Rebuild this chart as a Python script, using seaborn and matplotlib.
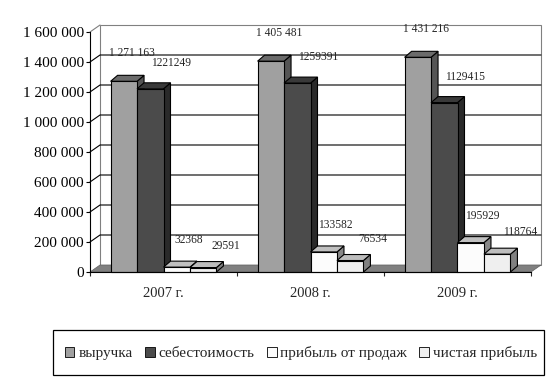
import matplotlib
matplotlib.use("Agg")
import matplotlib.pyplot as plt
import matplotlib.transforms as mtransforms
from matplotlib.patches import Polygon, Patch, Rectangle
from matplotlib.lines import Line2D
import pandas as pd
import seaborn as sns

# data
years = ["2007 г.", "2008 г.", "2009 г."]
series = ["выручка", "себестоимость", "прибыль от продаж", "чистая прибыль"]
revenue = [1271163, 1405481, 1431216]
cost = [1221249, 1259391, 1129415]
sales_profit = [32368, 133582, 195929]
net_profit = [29591, 76534, 118764]

front_colors = ["#a0a0a0", "#4b4b4b", "#fcfcfc", "#efefef"]
top_colors = ["#6b6b6b", "#393939", "#c0c0c0", "#bdbdbd"]
side_colors = ["#555555", "#2a2a2a", "#888888", "#808080"]

df = pd.DataFrame({
    "year": years * 4,
    "series": [s for s in series for _ in years],
    "value": revenue + cost + sales_profit + net_profit,
})

sns.set_style("white")
plt.rcParams["font.family"] = ["Liberation Serif", "DejaVu Serif"]

fig = plt.figure(figsize=(5.6, 3.85), dpi=100)
ax = fig.add_axes([90 / 560, 113 / 385, 441 / 560, 240 / 385])
sns.barplot(data=df, x="year", y="value", hue="series", hue_order=series,
            palette=front_colors, saturation=1, width=0.72,
            edgecolor="black", linewidth=0.8, legend=False, ax=ax)
ax.set_xlim(-0.5, 2.5)
ax.set_ylim(0, 1600000)
ax.set_xlabel("")
ax.set_ylabel("")

# pseudo-3D helpers (display pixels)
ident = mtransforms.IdentityTransform()
WX, WY = 10, 7   # wall depth
BX, BY = 7, 6    # bar depth


def disp(x, y):
    return ax.transData.transform((x, y))


def back(x, y):
    p = disp(x, y)
    return (p[0] + WX, p[1] + WY)


ymax = 1600000
ticks = list(range(0, ymax + 1, 200000))

# back wall
wall = Polygon([back(-0.5, 0), back(2.5, 0), back(2.5, ymax), back(-0.5, ymax)],
               closed=True, facecolor="white", edgecolor="#808080", lw=0.8,
               transform=ident, clip_on=False, zorder=0.5)
ax.add_patch(wall)
for v in ticks[1:-1]:
    a, b = back(-0.5, v), back(2.5, v)
    f = disp(-0.5, v)
    ax.add_line(Line2D([f[0], a[0], b[0]], [f[1], a[1], b[1]], color="black",
                       lw=0.8, transform=ident, clip_on=False, zorder=0.6))
f = disp(-0.5, ymax)
a = back(-0.5, ymax)
ax.add_line(Line2D([f[0], a[0]], [f[1], a[1]], color="#808080", lw=0.8,
                   transform=ident, clip_on=False, zorder=0.6))
# floor
floor = Polygon([disp(-0.5, 0), disp(2.5, 0), back(2.5, 0), back(-0.5, 0)],
                closed=True, facecolor="#808080", edgecolor="#606060", lw=0.5,
                transform=ident, clip_on=False, zorder=0.7)
ax.add_patch(floor)

# bar faces, drawn left to right so each front hides the previous side
label_offsets = [(8, 28), (21, 26), (12, 27), (23, 22)]
bars = []
for i, cont in enumerate(ax.containers):
    for bar in cont:
        bars.append((bar.get_x(), i, bar))
bars.sort(key=lambda t: t[0])
for rank, (_, i, bar) in enumerate(bars):
    x0, w, h = bar.get_x(), bar.get_width(), bar.get_height()
    xl, yb = disp(x0, 0)
    xr, yt = disp(x0 + w, h)
    z = 2 + rank * 0.01
    top = Polygon([(xl, yt), (xr, yt), (xr + BX, yt + BY), (xl + BX, yt + BY)],
                  closed=True, facecolor=top_colors[i], edgecolor="black",
                  lw=0.8, transform=ident, clip_on=False, zorder=z)
    side = Polygon([(xr, yb), (xr, yt), (xr + BX, yt + BY), (xr + BX, yb + BY)],
                   closed=True, facecolor=side_colors[i], edgecolor="black",
                   lw=0.8, transform=ident, clip_on=False, zorder=z)
    ax.add_patch(side)
    ax.add_patch(top)
    bar.set_zorder(z + 0.005)
    bar.set_clip_on(False)
    txt = f"{int(h):,}".replace(",", " ") if i == 0 else f"{int(h)}"
    dx, dy = label_offsets[i]
    ax.annotate(txt, (x0 + w / 2, h), xytext=(dx, dy), textcoords="offset pixels",
                ha="center", va="center", fontsize=8.3, zorder=5,
                annotation_clip=False)

# axes styling
for s in ["top", "right"]:
    ax.spines[s].set_visible(False)
for s in ["left", "bottom"]:
    ax.spines[s].set_color("black")
    ax.spines[s].set_linewidth(0.8)
    ax.spines[s].set_zorder(3)
ax.set_yticks(ticks)
ax.set_yticklabels([f"{v:,}".replace(",", " ") for v in ticks], fontsize=11)
ax.tick_params(axis="y", direction="out", length=3, width=0.8, pad=1.5,
               left=True, colors="black")
ax.set_xticks(range(3))
ax.set_xticklabels(years, fontsize=10.5)
ax.set_xticks([-0.5, 0.5, 1.5, 2.5], minor=True)
ax.tick_params(axis="x", which="major", length=0, pad=11)
ax.tick_params(axis="x", which="minor", direction="out", length=3, width=0.8,
               bottom=True)

# legend box drawn separately so its padding matches
box = (53 / 560, 10 / 385, 491 / 560, 45 / 385)
fig.patches.append(Rectangle(box[:2], box[2], box[3], transform=fig.transFigure,
                             facecolor="white", edgecolor="black", lw=0.9))
handles = [Patch(facecolor=c, edgecolor="black", linewidth=0.6) for c in front_colors]
fig.legend(handles, series, loc="center",
           bbox_to_anchor=(301 / 560, 32 / 385),
           ncol=4, frameon=False, fontsize=11,
           handlelength=0.65, handleheight=0.65, handletextpad=0.25,
           columnspacing=0.8, borderpad=0, borderaxespad=0)

fig.savefig("out.png", dpi=100)
